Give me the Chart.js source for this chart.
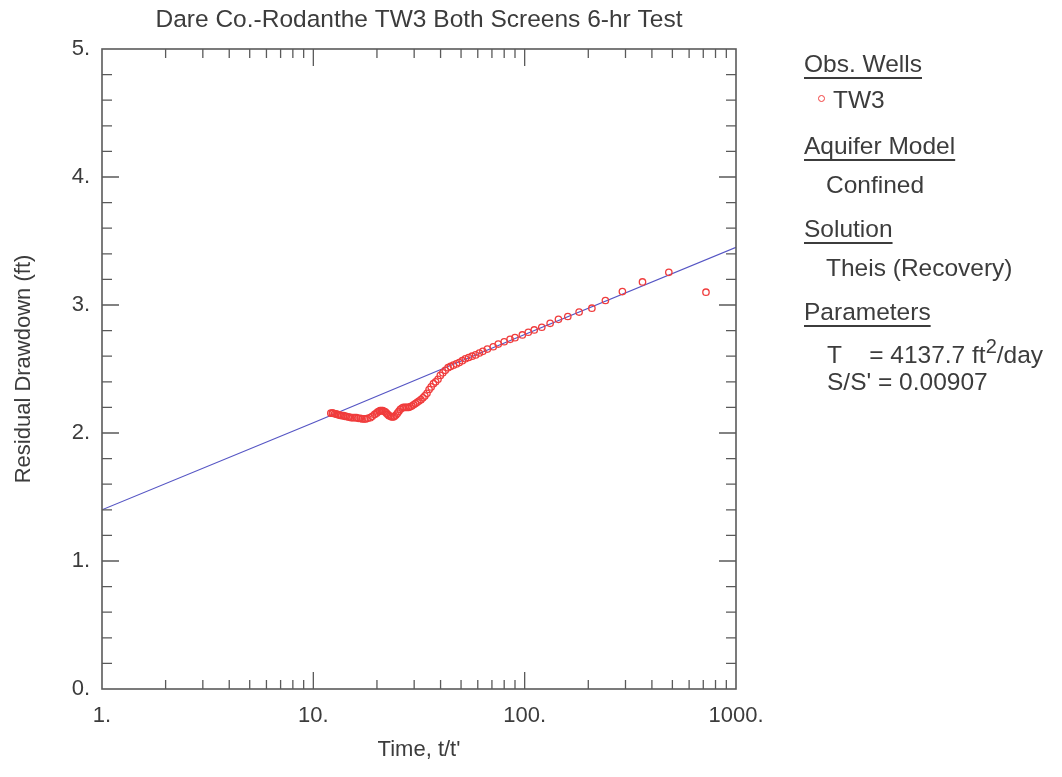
<!DOCTYPE html>
<html>
<head>
<meta charset="utf-8">
<script src="https://cdn.jsdelivr.net/npm/chart.js@4/dist/chart.umd.min.js"></script>
<style>
  body { margin: 0; background: #fff; }
  #wrap { position: relative; width: 1062px; height: 777px; font-family: "Liberation Sans", Arial, sans-serif; color: #3c3c3c; }
  #chart { position: absolute; left: 0; top: 0; }
  .lg { position: absolute; font-size: 24.5px; line-height: 28px; white-space: nowrap; }
  .hd { text-decoration: underline; text-decoration-thickness: 1.5px; text-underline-offset: 5px; }
  .mk { display: inline-block; width: 5px; height: 5px; border: 1.2px solid #f04040; border-radius: 50%; margin-right: 8px; vertical-align: middle; position: relative; top: -3px; }
  sup { font-size: 20px; line-height: 0; vertical-align: 10px; }
</style>
</head>
<body>
<div id="wrap">
  <canvas id="chart" width="1062" height="777"></canvas>
  <div class="lg hd" style="left:804px; top:50px;">Obs. Wells</div>
  <div class="lg" style="left:818px; top:86px;"><span class="mk"></span>TW3</div>
  <div class="lg hd" style="left:804px; top:132px;">Aquifer Model</div>
  <div class="lg" style="left:826px; top:171px;">Confined</div>
  <div class="lg hd" style="left:804px; top:215px;">Solution</div>
  <div class="lg" style="left:826px; top:254px;">Theis (Recovery)</div>
  <div class="lg hd" style="left:804px; top:298px;">Parameters</div>
  <div class="lg" style="left:827px; top:341px;">T&nbsp;&nbsp;&nbsp;&nbsp;= 4137.7 ft<sup>2</sup>/day</div>
  <div class="lg" style="left:827px; top:368px;">S/S' = 0.00907</div>
</div>
<script>
const obsTime = [721, 481, 361, 290, 241, 208, 181, 160, 144.5, 132, 120.5, 111, 104, 97.5, 90, 85.3, 80, 75, 71, 66.6, 63.4,
  61, 58.6, 56.4, 54.3, 52.4, 50.7, 49, 47.5, 46, 44.6, 43.4, 42.1, 41, 39.9, 38.9, 37.9, 37, 36.1, 35.3, 34.5, 33.7, 33,
  32.3, 31.6, 31, 30.4, 29.8, 29.2, 28.7, 28.2, 27.7, 27.2, 26.7, 26.3, 25.8, 25.4, 25, 24.6, 24.2, 23.9, 23.5, 23.2, 22.8,
  22.5, 22.2, 21.9, 21.6, 21.3, 21, 20.7, 20.5, 20.2, 19.9, 19.5, 19, 18.6, 18.1, 17.7, 17.4, 17, 16.7, 16.3, 16, 15.7,
  15.4, 15.1, 14.8, 14.6, 14.3, 14.1, 13.9, 13.6, 13.4, 13.2, 13, 12.8, 12.6, 12.4, 12.3, 12.1];
const obsDrawdown = [3.10, 3.255, 3.18, 3.105, 3.035, 2.975, 2.945, 2.91, 2.888, 2.857, 2.826, 2.805, 2.787, 2.766, 2.745, 2.732, 2.713, 2.695, 2.674, 2.656, 2.638,
  2.625, 2.61, 2.60, 2.59, 2.58, 2.565, 2.55, 2.54, 2.53, 2.52, 2.51, 2.49, 2.47, 2.45, 2.42, 2.40, 2.385, 2.36, 2.34, 2.31, 2.29, 2.275,
  2.26, 2.25, 2.24, 2.23, 2.22, 2.21, 2.205, 2.20, 2.20, 2.20, 2.20, 2.195, 2.185, 2.17, 2.155, 2.14, 2.13, 2.125, 2.125, 2.13, 2.135,
  2.145, 2.155, 2.165, 2.17, 2.175, 2.175, 2.175, 2.17, 2.165, 2.155, 2.145, 2.13, 2.12, 2.115, 2.11, 2.11, 2.11, 2.115, 2.115, 2.12, 2.12,
  2.12, 2.12, 2.125, 2.125, 2.13, 2.13, 2.135, 2.135, 2.14, 2.14, 2.145, 2.15, 2.15, 2.155, 2.155, 2.155];

// Theis recovery fit line
const fitTime = [1, 10, 100, 1000];
const fitDrawdown = [1.40, 2.08, 2.77, 3.45];

const xMajorTicks = [1, 10, 100, 1000];
const xMinorSteps = [2, 3, 4, 5, 6, 7, 8, 9];
const yTicks = [0, 1, 2, 3, 4, 5];
const yMinorStep = 0.2;

const FONT = '"Liberation Sans", Arial, sans-serif';
const TEXT = '#3c3c3c';
const AXIS = '#5a5a5a';

const frameTicks = {
  id: 'frameTicks',
  afterDraw(chart) {
    const { ctx, chartArea: a, scales: { x, y } } = chart;
    ctx.save();
    ctx.strokeStyle = AXIS;
    ctx.lineWidth = 1.6;
    ctx.strokeRect(a.left, a.top, a.right - a.left, a.bottom - a.top);
    ctx.lineWidth = 1.3;
    ctx.beginPath();
    // x ticks, bottom and top, pointing in
    xMajorTicks.forEach((d, i) => {
      if (i > 0 && i < xMajorTicks.length - 1) {
        const px = x.getPixelForValue(d);
        ctx.moveTo(px, a.bottom); ctx.lineTo(px, a.bottom - 17);
        ctx.moveTo(px, a.top); ctx.lineTo(px, a.top + 17);
      }
      if (i < xMajorTicks.length - 1) {
        xMinorSteps.forEach(m => {
          const px = x.getPixelForValue(d * m);
          ctx.moveTo(px, a.bottom); ctx.lineTo(px, a.bottom - 9);
          ctx.moveTo(px, a.top); ctx.lineTo(px, a.top + 9);
        });
      }
    });
    // y ticks, left and right, pointing in
    for (let v = 0; v <= 5.001; v += yMinorStep) {
      const r = Math.round(v * 10) / 10;
      if (r === 0 || r === 5) continue;
      const major = Number.isInteger(r);
      const len = major ? 17 : 10;
      const py = y.getPixelForValue(r);
      ctx.moveTo(a.left, py); ctx.lineTo(a.left + len, py);
      ctx.moveTo(a.right, py); ctx.lineTo(a.right - len, py);
    }
    ctx.stroke();
    ctx.restore();
  }
};

new Chart(document.getElementById('chart'), {
  type: 'scatter',
  data: {
    datasets: [{
      label: 'TW3',
      data: obsTime.map((t, i) => ({ x: t, y: obsDrawdown[i] })),
      pointStyle: 'circle',
      pointRadius: 3.2,
      pointBorderWidth: 1.3,
      pointBackgroundColor: 'rgba(0,0,0,0)',
      pointBorderColor: '#f03c3c',
      showLine: false,
      order: 1,
    }, {
      label: 'Theis',
      data: fitTime.map((t, i) => ({ x: t, y: fitDrawdown[i] })),
      showLine: true,
      borderColor: '#5555c4',
      borderWidth: 1.2,
      pointRadius: 0,
      order: 2,
    }],
  },
  options: {
    responsive: false,
    devicePixelRatio: 1,
    animation: false,
    layout: { padding: { left: 0, right: 326, top: 0, bottom: 0 } },
    plugins: {
      legend: { display: false },
      tooltip: { enabled: false },
      title: {
        display: true,
        fullSize: false,
        text: 'Dare Co.-Rodanthe TW3 Both Screens 6-hr Test',
        color: TEXT,
        font: { family: FONT, size: 24.5, weight: 'normal' },
        padding: { top: 6, bottom: 13.6 },
      },
    },
    scales: {
      x: {
        type: 'logarithmic',
        min: 1,
        max: 1000,
        afterBuildTicks: s => { s.ticks = xMajorTicks.map(v => ({ value: v })); },
        afterFit: s => { s.height = 88; },
        grid: { display: false, drawTicks: false },
        border: { display: false },
        ticks: {
          autoSkip: false,
          maxRotation: 0,
          padding: 14,
          color: TEXT,
          font: { family: FONT, size: 22 },
          callback: v => v + '.',
        },
        title: {
          display: true,
          text: "Time, t/t'",
          color: TEXT,
          font: { family: FONT, size: 22 },
          padding: { top: 0, bottom: 14 },
        },
      },
      y: {
        type: 'linear',
        min: 0,
        max: 5,
        afterBuildTicks: s => { s.ticks = yTicks.map(v => ({ value: v })); },
        afterFit: s => { s.width = 102; },
        grid: { display: false, drawTicks: false },
        border: { display: false },
        ticks: {
          padding: 12,
          color: TEXT,
          font: { family: FONT, size: 22 },
          callback: v => v + '.',
        },
        title: {
          display: true,
          text: 'Residual Drawdown (ft)',
          color: TEXT,
          font: { family: FONT, size: 22 },
          padding: { top: 11, bottom: 0 },
        },
      },
    },
  },
  plugins: [frameTicks],
});
</script>
</body>
</html>
